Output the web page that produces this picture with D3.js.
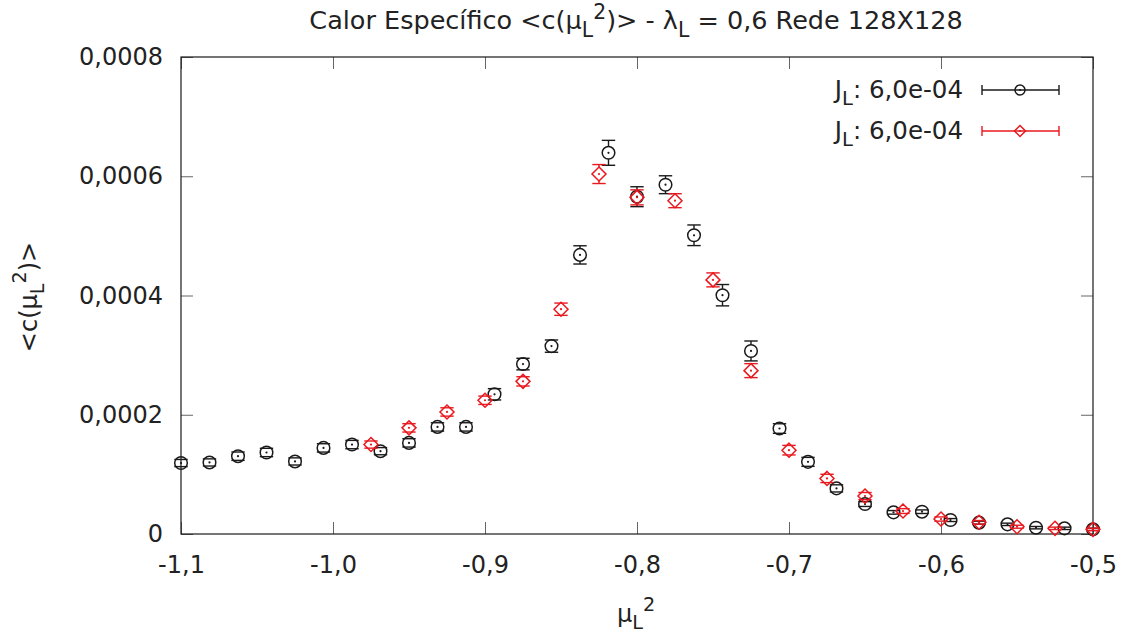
<!DOCTYPE html>
<html>
<head>
<meta charset="utf-8">
<script src="https://cdn.jsdelivr.net/npm/d3@7"></script>
<style>
  body { margin: 0; background: #fff; }
  text { font-family: "DejaVu Sans", sans-serif; fill: #222; }
</style>
</head>
<body>
<div id="canvas"></div>
<script>
// black series: J_L 6,0e-04 (circles)
const blackX = [-1.1, -1.08125, -1.0625, -1.04375, -1.025, -1.00625, -0.9875, -0.96875, -0.95, -0.93125,
  -0.9125, -0.89375, -0.875, -0.85625, -0.8375, -0.81875, -0.8, -0.78125, -0.7625, -0.74375,
  -0.725, -0.70625, -0.6875, -0.66875, -0.65, -0.63125, -0.6125, -0.59375, -0.575, -0.55625,
  -0.5375, -0.51875, -0.5];
const blackY = [0.000119, 0.000120, 0.0001305, 0.0001367, 0.0001217, 0.0001444, 0.000150, 0.0001389, 0.0001528, 0.0001796,
  0.0001796, 0.0002343, 0.000285, 0.0003151, 0.0004681, 0.0006393, 0.0005657, 0.0005858, 0.000501, 0.0004005,
  0.000307, 0.0001769, 0.000121, 0.0000765, 0.0000502, 0.0000363, 0.0000374, 0.0000234, 0.000019, 0.0000162,
  0.0000106, 0.0000095, 0.0000078];
const blackErr = [0.000006, 0.000006, 0.000007, 0.000007, 0.000006, 0.000007, 0.000007, 0.000006, 0.000007, 0.000007,
  0.000007, 0.0000095, 0.0000097, 0.0000103, 0.0000153, 0.0000209, 0.0000167, 0.000015, 0.0000173, 0.0000179,
  0.0000167, 0.000008, 0.0000075, 0.000006, 0.000004, 0.000003, 0.000003, 0.0000025, 0.0000025, 0.000002,
  0.000002, 0.000002, 0.000002];

// red series: J_L 6,0e-04 (diamonds)
const redX = [-0.975, -0.95, -0.925, -0.9, -0.875, -0.85, -0.825, -0.8, -0.775, -0.75,
  -0.725, -0.7, -0.675, -0.65, -0.625, -0.6, -0.575, -0.55, -0.525, -0.5];
const redY = [0.000150, 0.000178, 0.0002047, 0.0002243, 0.000256, 0.000377, 0.0006037, 0.0005646, 0.000559, 0.0004262,
  0.000274, 0.0001406, 0.0000932, 0.0000636, 0.0000385, 0.0000251, 0.0000196, 0.0000122, 0.0000095, 0.0000078];
const redErr = [0.000006, 0.000007, 0.000007, 0.000007, 0.0000078, 0.0000103, 0.0000159, 0.0000126, 0.0000117, 0.0000117,
  0.0000117, 0.000008, 0.000007, 0.000006, 0.000004, 0.0000035, 0.000003, 0.0000025, 0.000002, 0.000002];

const xTicks = [-1.1, -1.0, -0.9, -0.8, -0.7, -0.6, -0.5];
const yTicks = [0, 0.0002, 0.0004, 0.0006, 0.0008];
const legendLabels = ["6,0e-04", "6,0e-04"];

const width = 1130;
const height = 637;
const margin = { top: 57, left: 181, bottom: 103, right: 37 };
const iwidth = width - margin.left - margin.right;
const iheight = height - margin.top - margin.bottom;

const black = "#1a1a1a";
const red = "#e8191f";

const svg = d3.select("#canvas").append("svg")
  .attr("width", width)
  .attr("height", height);

const g = svg.append("g").attr("transform", `translate(${margin.left},${margin.top})`);

const x = d3.scaleLinear().domain([-1.1, -0.5]).range([0, iwidth]);
const y = d3.scaleLinear().domain([0, 0.0008]).range([iheight, 0]);

const loc = d3.formatLocale({ decimal: ",", thousands: ".", grouping: [3], currency: ["", ""], minus: "-" });
const fx = loc.format(".1f");
const fy = v => v === 0 ? "0" : loc.format(".4f")(v);

// axes (ticks inward, mirrored)
function styleAxis(sel) {
  sel.select(".domain").remove();
  sel.selectAll(".tick line").attr("stroke", "#666").attr("stroke-width", 1);
  sel.selectAll(".tick text").style("font-size", "24px").style("font-family", "DejaVu Sans").attr("fill", "#222");
}

g.append("g")
  .attr("transform", `translate(0,${iheight})`)
  .call(d3.axisBottom(x).tickValues(xTicks).tickFormat(fx).tickSize(-12).tickPadding(22))
  .call(styleAxis);
g.append("g")
  .call(d3.axisTop(x).tickValues(xTicks).tickFormat("").tickSize(-12))
  .call(styleAxis);
g.append("g")
  .call(d3.axisLeft(y).tickValues(yTicks).tickFormat(fy).tickSize(-12).tickPadding(18))
  .call(styleAxis);
g.append("g")
  .attr("transform", `translate(${iwidth},0)`)
  .call(d3.axisRight(y).tickValues(yTicks).tickFormat("").tickSize(-12))
  .call(styleAxis);

g.append("rect")
  .attr("width", iwidth).attr("height", iheight)
  .attr("fill", "none").attr("stroke", black).attr("stroke-width", 1.2);

// rich text with sub/superscripts
function richText(sel, parts, size, supUp) {
  let cur = 0;
  parts.forEach(p => {
    const target = p.s === "sub" ? 0.3 * size : p.s === "sup" ? -(supUp || 0.45) * size : 0;
    sel.append("tspan")
      .attr("dy", target - cur)
      .style("font-size", (p.s ? 0.8 * size : size) + "px")
      .text(p.t);
    cur = target;
  });
  return sel;
}

// error bars + markers
const cap = 6.7;
function drawSeries(xs, ys, es, color, shape) {
  const r = shape === "circle" ? 6.3 : 7;
  const s = g.append("g");
  xs.forEach((xv, i) => {
    const cx = x(xv), cy = y(ys[i]);
    const top = y(ys[i] + es[i]), bot = y(ys[i] - es[i]);
    const eb = s.append("g").attr("stroke", color).attr("stroke-width", 1.4).attr("fill", "none");
    if (top < cy - r) eb.append("line").attr("x1", cx).attr("x2", cx).attr("y1", top).attr("y2", cy - r);
    if (bot > cy + r) eb.append("line").attr("x1", cx).attr("x2", cx).attr("y1", cy + r).attr("y2", bot);
    eb.append("line").attr("x1", cx - cap).attr("x2", cx + cap).attr("y1", top).attr("y2", top);
    eb.append("line").attr("x1", cx - cap).attr("x2", cx + cap).attr("y1", bot).attr("y2", bot);
    marker(s, cx, cy, color, shape, r);
  });
}

function marker(s, cx, cy, color, shape, r) {
  if (shape === "circle") {
    s.append("circle").attr("cx", cx).attr("cy", cy).attr("r", r)
      .attr("fill", "none").attr("stroke", color).attr("stroke-width", 1.5);
  } else {
    s.append("path")
      .attr("d", `M${cx},${cy - r}L${cx + r},${cy}L${cx},${cy + r}L${cx - r},${cy}Z`)
      .attr("fill", "none").attr("stroke", color).attr("stroke-width", 1.5);
  }
  s.append("circle").attr("cx", cx).attr("cy", cy).attr("r", 1.1).attr("fill", color);
}

drawSeries(blackX, blackY, blackErr, black, "circle");
drawSeries(redX, redY, redErr, red, "diamond");

// legend
const legend = svg.append("g");
[[black, "circle"], [red, "diamond"]].forEach(([color, shape], i) => {
  const ly = 90 + i * 41;
  const t = legend.append("text").attr("x", 963).attr("y", ly + 8).attr("text-anchor", "end");
  richText(t, [{ t: "J" }, { t: "L", s: "sub" }, { t: ": " + legendLabels[i] }], 24.5);
  const lg = legend.append("g").attr("stroke", color).attr("stroke-width", 1.4);
  lg.append("line").attr("x1", 982).attr("x2", 1059).attr("y1", ly).attr("y2", ly);
  lg.append("line").attr("x1", 982).attr("x2", 982).attr("y1", ly - 5).attr("y2", ly + 5);
  lg.append("line").attr("x1", 1059).attr("x2", 1059).attr("y1", ly - 5).attr("y2", ly + 5);
  marker(legend, 1020, ly, color, shape, shape === "circle" ? 5 : 5.5);
});

// title
const title = svg.append("text").attr("x", 636).attr("y", 29).attr("text-anchor", "middle");
richText(title, [
  { t: "Calor Específico <c(μ" }, { t: "L", s: "sub" }, { t: "2", s: "sup" }, { t: ")> - λ" },
  { t: "L", s: "sub" }, { t: " = 0,6 Rede 128X128" }
], 25.5, 0.38);

// axis labels
const xl = svg.append("text").attr("x", 636).attr("y", 622).attr("text-anchor", "middle");
richText(xl, [{ t: "μ" }, { t: "L", s: "sub" }, { t: "2", s: "sup" }], 24);

const yl = svg.append("text").attr("transform", "translate(37,297) rotate(-90)").attr("text-anchor", "middle");
richText(yl, [{ t: "<c(μ" }, { t: "L", s: "sub" }, { t: "2", s: "sup" }, { t: ")>" }], 24);
</script>
</body>
</html>
